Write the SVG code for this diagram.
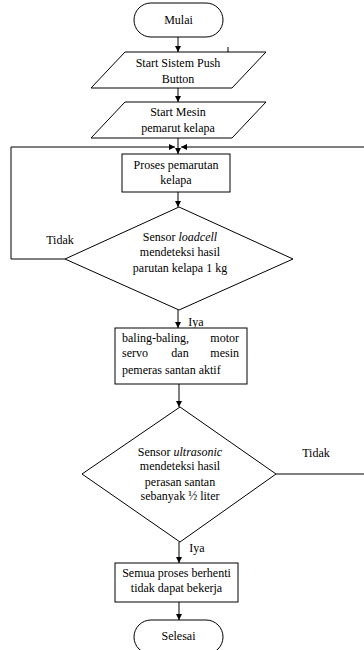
<svg xmlns="http://www.w3.org/2000/svg" width="364" height="650" viewBox="0 0 364 650">
<defs>
<marker id="ah" viewBox="0 0 10 10" refX="10" refY="5" markerWidth="6" markerHeight="6" orient="auto" markerUnits="userSpaceOnUse"><path d="M0,0 L10,5 L0,10 z" fill="#000"/></marker>
</defs>
<style>
.s{fill:#fff;stroke:#000;stroke-width:1}
.t{font-family:"Liberation Serif","Times New Roman",serif;font-size:12px;fill:#000;text-anchor:middle}
.st{text-anchor:start}
.en{text-anchor:end}
.l{fill:none;stroke:#000;stroke-width:1}
</style>
<rect width="364" height="650" fill="#fff"/>
<g id="connectors">
<line class="l" x1="178" y1="37" x2="178" y2="52" marker-end="url(#ah)"/>
<line class="l" x1="178" y1="88" x2="178" y2="102" marker-end="url(#ah)"/>
<line class="l" x1="178" y1="138" x2="178" y2="154" marker-end="url(#ah)"/>
<line class="l" x1="178" y1="192" x2="178" y2="207" marker-end="url(#ah)"/>
<line class="l" x1="178" y1="310" x2="178" y2="328" marker-end="url(#ah)"/>
<line class="l" x1="179" y1="384" x2="179" y2="407" marker-end="url(#ah)"/>
<line class="l" x1="179" y1="542" x2="179" y2="563" marker-end="url(#ah)"/>
<line class="l" x1="179" y1="602" x2="179" y2="620" marker-end="url(#ah)"/>
<polyline class="l" points="65,259 11,259 11,147 175,147" marker-end="url(#ah)"/>
<polyline class="l" points="276,474 366,474 366,147 181,147" marker-end="url(#ah)"/>
<line class="l" x1="228" y1="47" x2="228" y2="60"/>
<text class="t" x="60" y="244">Tidak</text>
<text class="t" x="316" y="457">Tidak</text>
<text class="t" x="196" y="326">Iya</text>
<text class="t" x="197" y="552">Iya</text>
</g>
<g id="mulai">
<rect class="s" x="134" y="3" width="89" height="34" rx="17"/>
<text class="t" x="178.5" y="24">Mulai</text>
</g>
<g id="start-push">
<polygon class="s" points="125,52 266,52 232,88 91,88"/>
<text class="t" x="178" y="67">Start Sistem Push</text>
<text class="t" x="178" y="83">Button</text>
</g>
<g id="start-mesin">
<polygon class="s" points="125,102 266,102 232,138 91,138"/>
<text class="t" x="178" y="116">Start Mesin</text>
<text class="t" x="178" y="132">pemarut kelapa</text>
</g>
<g id="proses">
<rect class="s" x="122" y="154" width="108" height="38"/>
<text class="t" x="176" y="169">Proses pemarutan</text>
<text class="t" x="176" y="184">kelapa</text>
</g>
<g id="loadcell">
<polygon class="s" points="179,207 293,259 179,310 65,259"/>
<text class="t" x="180" y="241">Sensor <tspan font-style="italic">loadcell</tspan></text>
<text class="t" x="180" y="256">mendeteksi hasil</text>
<text class="t" x="180" y="272">parutan kelapa 1 kg</text>
</g>
<g id="baling">
<rect class="s" x="115" y="328" width="132" height="56"/>
<text class="t st" x="122" y="342">baling-baling,</text>
<text class="t en" x="239" y="342">motor</text>
<text class="t st" x="122" y="357">servo</text>
<text class="t" x="180" y="357">dan</text>
<text class="t en" x="239" y="357">mesin</text>
<text class="t st" x="122" y="374">pemeras santan aktif</text>
</g>
<g id="ultrasonic">
<polygon class="s" points="180,407 276,474 180,542 82,474"/>
<text class="t" x="180" y="456">Sensor <tspan font-style="italic">ultrasonic</tspan></text>
<text class="t" x="180" y="470">mendeteksi hasil</text>
<text class="t" x="180" y="486">perasan santan</text>
<text class="t" x="180" y="500">sebanyak ½ liter</text>
</g>
<g id="berhenti">
<rect class="s" x="115" y="563" width="123" height="39"/>
<text class="t" x="176.5" y="577">Semua proses berhenti</text>
<text class="t" x="176.5" y="592">tidak dapat bekerja</text>
</g>
<g id="selesai">
<rect class="s" x="134" y="620" width="89" height="34" rx="17"/>
<text class="t" x="178.5" y="640">Selesai</text>
</g>
</svg>
